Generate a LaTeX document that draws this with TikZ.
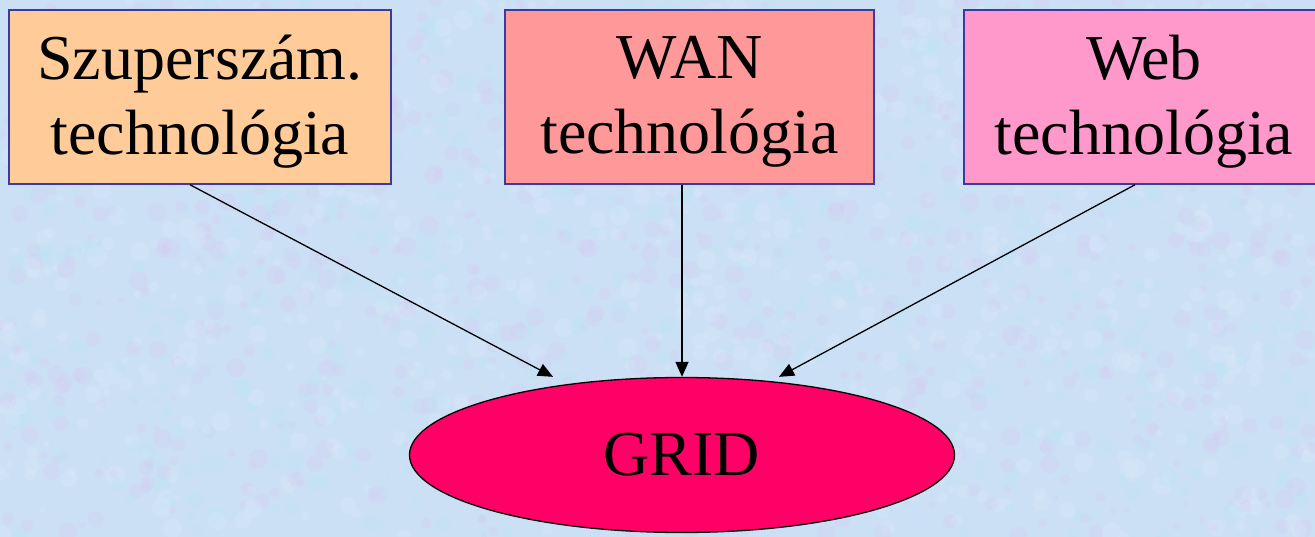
\documentclass[tikz,border=0pt]{standalone}
\usepackage{fontspec}
\setmainfont{Liberation Serif}
\usetikzlibrary{shapes.geometric,arrows.meta,calc}

\definecolor{bgbase}{HTML}{CCE0F5}
\definecolor{bglav}{HTML}{D6C8F2}
\definecolor{bgcyan}{HTML}{B8E6F4}
\definecolor{bgpale}{HTML}{E2ECFA}
\definecolor{frameblue}{HTML}{3A3AA0}
\definecolor{peach}{HTML}{FFCC99}
\definecolor{salmon}{HTML}{FF9999}
\definecolor{rosepink}{HTML}{FF99CC}
\definecolor{gridred}{HTML}{FF0066}

\tikzset{
  techbox/.style={draw=frameblue, line width=1.5pt, rectangle, inner sep=0pt,
    minimum height=174pt},
  techtext/.style={inner sep=0pt, align=center,
    font=\fontsize{64}{75}\selectfont},
  gridnode/.style={draw=black, line width=1.3pt, ellipse, fill=gridred,
    inner sep=0pt, minimum width=545pt, minimum height=155pt,
    font=\fontsize{64}{78}\selectfont},
  feed/.style={draw=black, line width=1.3pt,
    -{Triangle[length=15pt,width=13pt]}},
}

\begin{document}
\begin{tikzpicture}[x=1pt,y=-1pt]
  % canvas and mottled backdrop
  \useasboundingbox (0,0) rectangle (1315,537);
  \clip (0,0) rectangle (1315,537);
  \fill[bgbase] (0,0) rectangle (1315,537);
  \pgfmathsetseed{11}
  \foreach \i in {1,...,2200}{
    \pgfmathsetmacro\px{rnd*1315}
    \pgfmathsetmacro\py{rnd*537}
    \pgfmathsetmacro\pr{3+rnd*7}
    \pgfmathtruncatemacro\pc{mod(\i,3)}
    \ifcase\pc
      \fill[bglav, opacity=0.22] (\px,\py) circle (\pr);
    \or
      \fill[bgcyan, opacity=0.22] (\px,\py) circle (\pr);
    \else
      \fill[bgpale, opacity=0.22] (\px,\py) circle (\pr);
    \fi
  }

  % source technologies
  \node[techbox, fill=peach, minimum width=382pt] (super) at (200,97) {};
  \node[techbox, fill=salmon, minimum width=369pt] (wan) at (689.5,97) {};
  \node[techbox, fill=rosepink, minimum width=380pt] (web) at (1154,97) {};

  \node[techtext] (supertext) at ($(super.center)+(0,5)$)
    {Szuperszám.\\technológia};
  \node[techtext] (wantext) at ($(wan.center)+(0,5)$)
    {WAN\\technológia};
  \node[techtext] (webtext) at ($(web.center)+(-10,5)$)
    {Web\\technológia};

  % target
  \node[gridnode] (grid) at (682,455) {GRID};

  % connectors
  \draw[feed] ([xshift=-10pt]super.south) -- ([xshift=-129pt]grid.north);
  \draw[feed] ([xshift=-7.5pt]wan.south) -- (grid.north);
  \draw[feed] ([xshift=-19pt]web.south) -- ([xshift=97pt]grid.north);
\end{tikzpicture}
\end{document}
